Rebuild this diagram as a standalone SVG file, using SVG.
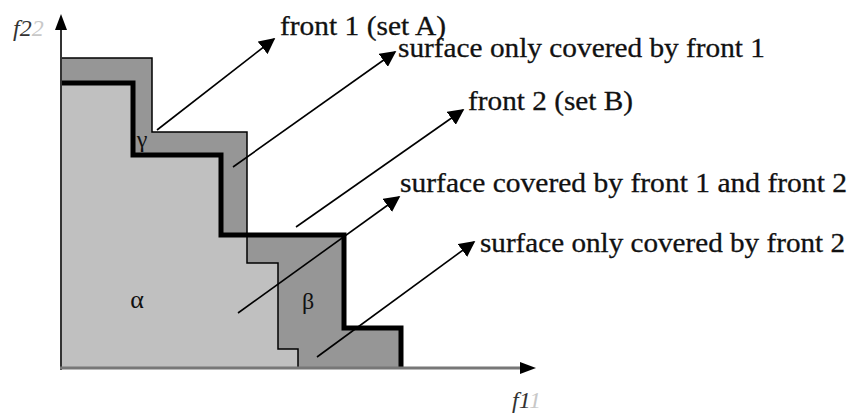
<svg xmlns="http://www.w3.org/2000/svg" width="853" height="416" viewBox="0 0 853 416">
<defs>
<marker id="ah" viewBox="0 0 10 10" refX="9" refY="5" markerWidth="16" markerHeight="16" markerUnits="userSpaceOnUse" orient="auto">
<path d="M0,0 L10,5 L0,10 z" fill="#000"/>
</marker>
<style>
.lbl{font-family:"Liberation Serif","Times New Roman",serif;font-size:28px;fill:#111;stroke:#111;stroke-width:0.3}
.greek{font-family:"Liberation Serif","DejaVu Serif",serif;fill:#111;text-anchor:middle}
.ax{font-family:"Liberation Serif",serif;font-style:italic;font-size:24px;fill:#333}
.ghost{fill:#c8c8c8}
.conn{stroke:#000;stroke-width:1.6;fill:none;marker-end:url(#ah)}
.thin{stroke:#000;stroke-width:1.5;fill:none}
</style>
</defs>
<rect width="853" height="416" fill="#fff"/>
<g id="regions">
<polygon id="union" points="61,58 152,58 152,132 247,132 247,235 344,235 344,328 401,328 401,368 61,368" fill="#969696"/>
<polygon id="alpha-region" points="61,83 133,83 133,155 221,155 221,235 247,235 247,263 278,263 278,349 298,349 298,368 61,368" fill="#c0c0c0"/>
</g>
<g id="front1">
<polyline class="thin" points="61,58 152,58 152,132 247,132 247,263 278,263 278,349 298,349 298,368"/>
</g>
<g id="front2">
<polyline points="61,83 133,83 133,155 221,155 221,235 344,235 344,328 401,328 401,368" fill="none" stroke="#000" stroke-width="5"/>
</g>
<g id="axes">
<line x1="61" y1="370" x2="61" y2="28" stroke="#333" stroke-width="2"/>
<polygon points="61,14 55,30 67,30" fill="#000"/>
<line x1="60" y1="368" x2="522" y2="368" stroke="#777" stroke-width="3"/>
<polygon points="536,368 520,362 520,374" fill="#000"/>
<text class="ax" x="13" y="36">f2<tspan class="ghost">2</tspan></text>
<text class="ax" x="512" y="408">f1<tspan class="ghost">1</tspan></text>
</g>
<g id="greek">
<text class="greek" x="142" y="147" font-size="24">γ</text>
<text class="greek" x="137" y="308" font-size="26">α</text>
<text class="greek" x="308" y="309" font-size="24">β</text>
</g>
<g id="connectors">
<line class="conn" x1="157" y1="130" x2="274" y2="39"/>
<line class="conn" x1="233" y1="167" x2="395" y2="52"/>
<line class="conn" x1="296" y1="227" x2="463" y2="110"/>
<line class="conn" x1="238" y1="313" x2="399" y2="197"/>
<line class="conn" x1="317" y1="357" x2="474" y2="242"/>
</g>
<g id="labels">
<text id="l-front1" class="lbl" x="280" y="35" textLength="166" lengthAdjust="spacingAndGlyphs">front 1 (set A)</text>
<text id="l-only1" class="lbl" x="398" y="57" textLength="367" lengthAdjust="spacingAndGlyphs">surface only covered by front 1</text>
<text id="l-front2" class="lbl" x="468" y="110" textLength="165" lengthAdjust="spacingAndGlyphs">front 2 (set B)</text>
<text id="l-both" class="lbl" x="400" y="192" textLength="447" lengthAdjust="spacingAndGlyphs">surface covered by front 1 and front 2</text>
<text id="l-only2" class="lbl" x="480" y="252" textLength="365" lengthAdjust="spacingAndGlyphs">surface only covered by front 2</text>
</g>
</svg>
